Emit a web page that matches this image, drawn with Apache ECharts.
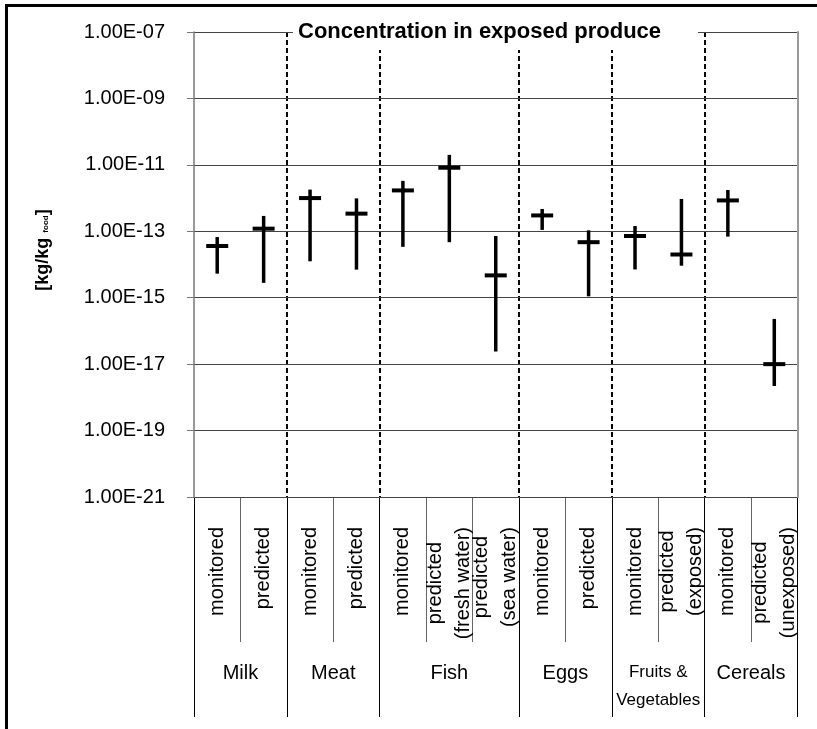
<!DOCTYPE html>
<html><head><meta charset="utf-8">
<script src="https://cdn.jsdelivr.net/npm/echarts@6/dist/echarts.min.js"></script>
<style>html,body{margin:0;padding:0;background:#fff}#c{width:817px;height:729px}</style>
</head><body><div id="c"></div>
<script>
// ---- data ----
const categories = ['monitored','predicted','monitored','predicted','monitored','predicted\n(fresh water)','predicted\n(sea water)','monitored','predicted','monitored','predicted\n(exposed)','monitored','predicted\n(unexposed)'];
const groupNames = ['Milk','Meat','Fish','Eggs','Fruits &\nVegetables','Cereals'];
const groupSizes = [2,2,3,2,2,2];
const midValues  = [3.6e-14, 1.2e-13, 1.0e-12, 3.4e-13, 1.7e-12, 8.2e-12, 4.7e-15, 3.0e-13, 4.7e-14, 7.2e-14, 2.0e-14, 8.5e-13, 1.0e-17];
const lowValues  = [5.3e-15, 2.8e-15, 1.25e-14, 7.0e-15, 3.4e-14, 4.7e-14, 2.4e-17, 1.1e-13, 1.1e-15, 7.1e-15, 9.2e-15, 6.9e-14, 2.2e-18];
const highValues = [6.7e-14, 2.9e-13, 1.8e-12, 9.8e-13, 3.3e-12, 2.0e-11, 7.2e-14, 4.7e-13, 1.07e-13, 1.44e-13, 9.4e-13, 1.75e-12, 2.3e-16];
const yMinExp = -21, yMaxExp = -7, yExpStep = 2;   // y axis: decades (log10 of kg/kg)
const titleText = 'Concentration in exposed produce';

const FONT = 'Liberation Sans';
const groupStarts = [];
{ let s = 0; groupSizes.forEach(n => { groupStarts.push(s); s += n; }); }

// tick label: exponent -> 1.00E-xx
function fmtExp(e) {
  e = Math.round(e);
  return '1.00E' + (e < 0 ? '-' : '+') + String(Math.abs(e)).padStart(2, '0');
}
// the y axis is a decade axis (log10 of the value); ECharts v6 log axis cannot handle 1e-21
const seriesData = categories.map((c, i) => [i, Math.log10(midValues[i]), Math.log10(lowValues[i]), Math.log10(highValues[i])]);

const chart = echarts.init(document.getElementById('c'), null, {renderer: 'canvas'});
const yAxisBase = {type: 'value', min: yMinExp, max: yMaxExp, interval: yExpStep};
const option = {
  animation: false,
  backgroundColor: '#fff',
  textStyle: {fontFamily: FONT},
  title: {
    text: titleText, left: 293, top: 18, padding: [3, 37, 7, 5],
    backgroundColor: '#fff', z: 10,
    textStyle: {fontSize: 22, fontWeight: 'bold', color: '#000', fontFamily: FONT, lineHeight: 22}
  },
  grid: {left: 194, top: 32, right: 19.5, bottom: 232, containLabel: false},
  xAxis: [{
    type: 'category', data: categories, position: 'bottom',
    axisLine: {show: true, lineStyle: {color: '#000', width: 1}},
    axisTick: {show: true, interval: 0, length: 145, lineStyle: {color: '#666', width: 1}},
    axisLabel: {
      interval: 0, rotate: 90, margin: 30, hideOverlap: false,
      formatter: v => v.split('\n').map(s => '{c|' + s + '}').join('\n'),
      rich: {c: {fontSize: 20, fontFamily: FONT, color: '#000', align: 'center', lineHeight: 28}}
    },
    splitLine: {show: false}
  }, {
    type: 'category', data: categories, position: 'bottom',
    axisLine: {show: false},
    axisTick: {show: true, interval: i => groupStarts.includes(i), length: 220, lineStyle: {color: '#000', width: 1}},
    axisLabel: {show: false},
    splitLine: {show: true, interval: i => groupStarts.includes(i) && i > 0, lineStyle: {color: '#000', width: 2, type: [5, 3]}}
  }],
  yAxis: [Object.assign({}, yAxisBase, {
    z: 3,
    axisLine: {show: true, lineStyle: {color: '#777', width: 1.5}},
    axisTick: {show: true, length: 7, lineStyle: {color: '#777', width: 1}},
    axisLabel: {margin: 29, fontSize: 20, color: '#000', fontFamily: FONT, formatter: fmtExp},
    splitLine: {show: true, lineStyle: {color: '#444', width: 1.2}}
  }), Object.assign({}, yAxisBase, {
    position: 'right', z: 3,
    axisLine: {show: true, onZero: false, lineStyle: {color: '#999', width: 2}},
    axisTick: {show: false}, axisLabel: {show: false}, splitLine: {show: false}
  })],
  series: [{
    type: 'custom', xAxisIndex: 0, yAxisIndex: 0, clip: false, z: 5,
    encode: {x: 0, y: [1, 2, 3]},
    data: seriesData,
    renderItem: function (params, api) {
      const x = api.value(0);
      const pm = api.coord([x, api.value(1)]);
      const pl = api.coord([x, api.value(2)]);
      const ph = api.coord([x, api.value(3)]);
      return {type: 'group', children: [
        {type: 'line', shape: {x1: pl[0], y1: pl[1], x2: ph[0], y2: ph[1]}, style: {stroke: '#000', lineWidth: 3.5}},
        {type: 'line', shape: {x1: pm[0] - 11, y1: pm[1], x2: pm[0] + 11, y2: pm[1]}, style: {stroke: '#000', lineWidth: 4}}
      ]};
    }
  }]
};
chart.setOption(option);

// graphics: frame, y-axis name, group labels (positioned from the category axis)
const graphics = [
  {id: 'frame', type: 'rect', silent: true, z: 100, shape: {x: 6.5, y: 5.5, width: 900, height: 900}, style: {fill: 'none', stroke: '#000', lineWidth: 3}},
  {id: 'yname', type: 'text', x: 43, y: 250, rotation: Math.PI / 2, z: 50,
    style: {text: '{a|[kg/kg }{b|food}{a|]}', align: 'center', verticalAlign: 'middle',
      rich: {a: {fontSize: 18, fontWeight: 'bold', fontFamily: FONT, fill: '#000', lineHeight: 20},
             b: {fontSize: 8, fontWeight: 'bold', fontFamily: FONT, fill: '#000', padding: [6, 0, 0, 0]}}}}
];
groupNames.forEach((g, gi) => {
  const s = groupStarts[gi], e = s + groupSizes[gi] - 1;
  const x0 = chart.convertToPixel({xAxisIndex: 0}, s);
  const x1 = chart.convertToPixel({xAxisIndex: 0}, e);
  const multi = g.indexOf('\n') >= 0;
  graphics.push({id: 'g' + gi, type: 'text', x: (x0 + x1) / 2, y: multi ? 658 : 661, z: 50,
    style: {text: g, align: 'center', verticalAlign: 'top', fontSize: multi ? 17 : 20,
      lineHeight: multi ? 28 : 24, fontFamily: FONT, fill: '#000'}});
});
chart.setOption({graphic: graphics});
</script>
</body></html>
